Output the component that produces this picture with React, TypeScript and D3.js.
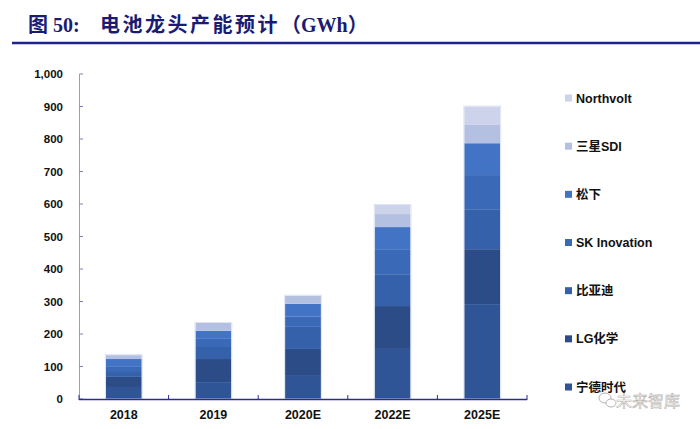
import React from "react";
import * as d3 from "d3";

const categories = ["2018", "2019", "2020E", "2022E", "2025E"];
const seriesNames = ["宁德时代", "LG化学", "比亚迪", "SK Inovation", "松下", "三星SDI", "Northvolt"];
const catl = [37, 52, 71, 154, 292];
const lgChem = [31, 71, 83, 132, 169];
const byd = [15, 37, 68, 98, 123];
const skInnovation = [18, 25, 31, 77, 105];
const panasonic = [22, 25, 40, 68, 98];
const samsungSdi = [12, 24, 25, 40, 58];
const northvolt = [0, 0, 0, 28, 55];
const yTicks = [0, 100, 200, 300, 400, 500, 600, 700, 800, 900, 1000];

const colors = ["#2f5597", "#2c4c88", "#3561aa", "#3a69b7", "#4373c5", "#b4c0e1", "#ccd3ea"];

const seriesValues = [catl, lgChem, byd, skInnovation, panasonic, samsungSdi, northvolt];

export default function App() {
  const W = 700, H = 429;
  const x = d3.scaleBand<string>().domain(categories).range([79, 527]).paddingInner(0.6).paddingOuter(0.3);
  const y = d3.scaleLinear().domain([0, 1000]).range([399, 74]);

  const rows = categories.map((c, i) => {
    const r: any = { cat: c };
    seriesNames.forEach((s, j) => (r[s] = seriesValues[j][i]));
    return r;
  });
  const stacked = d3.stack().keys(seriesNames)(rows);
  const totals = categories.map((_, i) => d3.sum(seriesValues, (v) => v[i]));
  const step = x.step();
  const left = 79, right = 527;
  const boundaries = d3.range(categories.length + 1).map((i) => left + i * step);

  const legendOrder = [...seriesNames].reverse();
  const legendY = d3.scaleLinear().domain([0, 6]).range([98, 387]);

  const cjk = "'Noto Sans CJK SC', sans-serif";
  const sans = "'Liberation Sans', Arial, 'Noto Sans CJK SC', sans-serif";

  return (
    <svg width={W} height={H} style={{ position: "absolute", left: 0, top: 0, background: "#fff" }}>
      <rect x={0} y={0} width={W} height={H} fill="#fff" />
      {/* Title */}
      <g fill="#1b1b73" fontWeight="bold">
        <text x={28} y={32} fontSize={20} fontFamily={cjk}>图</text>
        <text x={53} y={32} fontSize={20} fontFamily="'Liberation Serif', serif">50:</text>
        <text x={100} y={32} fontSize={20} fontFamily={cjk} letterSpacing={2.5}>电池龙头产能预计</text>
        <text x={281} y={32} fontSize={20} fontFamily="'Liberation Serif', 'Noto Sans CJK SC', serif">
          <tspan fontFamily={cjk}>（</tspan>GWh<tspan fontFamily={cjk}>）</tspan>
        </text>
      </g>
      <line x1={12} x2={700} y1={43} y2={43} stroke="#1f2390" strokeWidth={2.5} />

      {/* bars */}
      {stacked.map((layer, li) => (
        <g key={layer.key} fill={colors[li]}>
          {layer.map((d, i) => {
            const h = y(d[0]) - y(d[1]);
            if (h <= 0) return null;
            return <rect key={i} x={x(categories[i])} y={y(d[1])} width={x.bandwidth()} height={h} />;
          })}
        </g>
      ))}
      {categories.map((c, i) => (
        <rect key={c} x={x(c)! - 0.5} y={y(totals[i]) - 0.5} width={x.bandwidth() + 1} height={y(0) - y(totals[i]) + 0.5}
          fill="none" stroke="#dfe5f3" strokeWidth={1} />
      ))}

      {/* y axis */}
      <line x1={79.5} x2={79.5} y1={y(1000)} y2={y(0)} stroke="#9a9ad0" strokeWidth={1} />
      {yTicks.map((t) => (
        <g key={t}>
          <line x1={79.5} x2={83} y1={y(t)} y2={y(t)} stroke="#7d7dc4" strokeWidth={1} />
          <text x={63} y={y(t) + 4} textAnchor="end" fontSize={11.5} fontWeight="bold" fontFamily={sans} fill="#111">
            {d3.format(",")(t)}
          </text>
        </g>
      ))}

      {/* x axis */}
      <line x1={left} x2={right} y1={399.5} y2={399.5} stroke="#2a2a9a" strokeWidth={1.5} />
      {boundaries.map((bx, i) => (
        <line key={i} x1={bx} x2={bx} y1={395} y2={400} stroke="#2a2a9a" strokeWidth={1} />
      ))}
      {categories.map((c) => (
        <text key={c} x={x(c)! + x.bandwidth() / 2} y={419} textAnchor="middle" fontSize={12.5} fontWeight="bold"
          fontFamily={sans} fill="#111">{c}</text>
      ))}

      {/* legend */}
      {legendOrder.map((name, i) => {
        const idx = seriesNames.indexOf(name);
        const cy = legendY(i);
        return (
          <g key={name}>
            <rect x={565} y={cy - 3.5} width={7} height={7} fill={colors[idx]} />
            <text x={576} y={cy + 4.5} fontSize={12.5} fontWeight="bold" fontFamily={sans} fill="#111">{name}</text>
          </g>
        );
      })}

      {/* watermark */}
      <g opacity={0.8}>
        <ellipse cx={605} cy={398} rx={6} ry={5} fill="#fff" stroke="#a0a0a0" strokeWidth={1} />
        <ellipse cx={611} cy={403} rx={5} ry={4} fill="#fff" stroke="#a0a0a0" strokeWidth={1} />
        <text x={616} y={407} fontSize={16} fontFamily={cjk} fill="#fff" stroke="#a0a0a0" strokeWidth={0.6}>未来智库</text>
      </g>
    </svg>
  );
}
